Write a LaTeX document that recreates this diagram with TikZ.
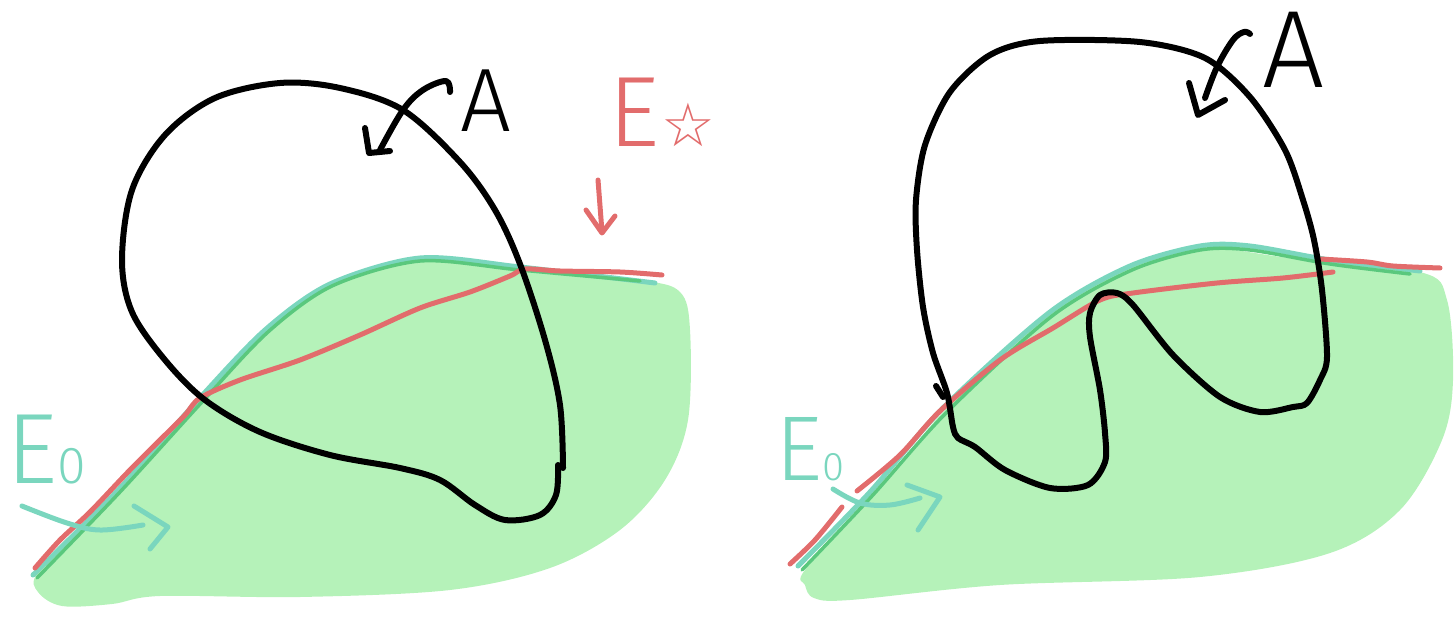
\documentclass[tikz,border=0pt]{standalone}
\usepackage{fontspec}
\setmainfont{Fira Sans Light}
\newfontfamily\symfont{DejaVu Sans}
\definecolor{fillgreen}{RGB}{181,242,185}
\definecolor{linegreen}{RGB}{90,200,125}
\definecolor{teal2}{RGB}{122,214,190}
\definecolor{red2}{RGB}{226,108,108}
\tikzset{
  ink/.style={line width=6pt, line cap=round, line join=round},
  blackink/.style={ink, black},
  redink/.style={ink, red2, line width=5pt},
  greenink/.style={ink, linegreen, line width=4.5pt},
  tealink/.style={ink, teal2, line width=5pt},
  lbl/.style={inner sep=0pt, anchor=base west},
}
\begin{document}
\begin{tikzpicture}[x=1pt,y=-1pt]
\useasboundingbox (0,0) rectangle (1455,620);
% ================= LEFT PANEL =================
\fill[fillgreen] plot[smooth cycle, tension=0.55] coordinates {
 (38,572) (90,518) (145,460) (200,400) (260,336) (330,284) (420,258) (520,266)
 (640,280) (680,292) (690,330) (688,420) (665,480) (620,530) (550,568)
 (450,590) (300,597) (160,596) (112,604) (62,606) (38,592)};
\draw[tealink] plot[smooth, tension=0.5] coordinates {(33,575) (120,488) (198,400) (265,330) (330,284) (420,258) (520,267) (655,283)};
\draw[greenink, line width=3.5pt] plot[smooth, tension=0.5] coordinates {(37,578) (120,492) (202,402) (268,332) (332,286) (420,261) (520,270) (640,281)};
\draw[redink] plot[smooth, tension=0.5] coordinates {(35,568) (60,540) (90,512) (128,472) (160,440) (185,415) (200,398) (240,380) (300,360) (360,335) (420,308) (470,292) (510,276) (525,269) (560,271) (620,272) (662,275)};
\draw[blackink] plot[smooth, tension=0.55] coordinates {
 (558,465) (556,495) (540,515) (505,520) (475,505) (440,480) (400,468) (330,455)
 (260,432) (205,400) (165,360) (132,312) (122,260) (132,190) (165,135) (215,98)
 (280,83) (340,88) (403,110) (460,162) (495,210) (520,264) (545,340) (560,405) (563,468)};
% arrow A (left)
\draw[blackink] plot[smooth, tension=0.6] coordinates {(450,92) (446,81) (423,90) (403,110) (380,150)};
\draw[blackink] (365,128) -- (369,153) -- (390,151);
\node[lbl, font=\fontsize{90}{90}\selectfont] (Aleft) at (460,132) {A};
% E star label and arrow
\node[lbl, red2, font=\fontsize{100}{100}\selectfont] (Estar) at (608,147) {E\kern2pt{\symfont\fontsize{60}{60}\selectfont ☆}};
\draw[redink] (598,180) -- (602,232);
\draw[redink] (586,210) -- (602,233) -- (615,216);
% E0 label (left) and arrow
\node[lbl, teal2, font=\fontsize{100}{100}\selectfont] (E0left) at (6,483) {E{\fontsize{52}{52}\selectfont 0}};
\draw[tealink] plot[smooth, tension=0.6] coordinates {(22,506) (67,523) (100,530) (143,525)};
\draw[tealink] (134,506) -- (168,527) -- (150,549);
% ================= RIGHT PANEL =================
\fill[fillgreen] plot[smooth cycle, tension=0.55] coordinates {
 (805,570) (870,500) (945,410) (1040,322) (1110,276) (1200,249) (1290,258)
 (1420,272) (1447,300) (1453,380) (1442,440) (1400,510) (1330,553) (1200,577)
 (1000,585) (850,600) (814,598) (805,585)};
\draw[tealink] plot[smooth, tension=0.5] coordinates {(798,566) (870,492) (943,408) (1050,312) (1130,266) (1200,246) (1250,246) (1330,260) (1420,271)};
\draw[greenink, line width=3.5pt] plot[smooth, tension=0.5] coordinates {(802,570) (872,496) (947,412) (1052,316) (1132,270) (1200,250) (1250,250) (1330,264) (1410,274)};
\draw[redink] plot[smooth, tension=0.5] coordinates {(790,564) (815,540) (842,507)};
\draw[redink] plot[smooth, tension=0.5] coordinates {(857,491) (900,455) (940,411) (1000,360) (1053,328) (1100,300) (1133,293) (1217,283) (1283,278) (1333,272)};
\draw[redink] plot[smooth, tension=0.5] coordinates {(1320,259) (1367,262) (1393,266) (1440,268)};
\draw[blackink] plot[smooth cycle, tension=0.5] coordinates {
 (1040,41) (1140,42) (1205,58) (1250,97) (1285,150) (1303,200) (1314,240)
 (1322,290) (1327,357) (1320,380) (1307,403) (1293,407) (1260,412) (1220,397)
 (1173,355) (1133,305) (1117,293) (1100,295) (1090,313) (1090,337) (1100,390)
 (1105,433) (1105,462) (1088,485) (1050,488) (1005,470) (975,447) (958,438)
 (953,427) (947,393) (933,353) (923,307) (917,250) (916,200) (925,145) (950,92) (990,55)};
\draw[blackink] (936,386) -- (943,397);
% arrow A (right)
\draw[blackink] plot[smooth, tension=0.6] coordinates {(1250,34) (1244,32) (1233,40) (1217,67) (1205,98)};
\draw[blackink] (1189,83) -- (1198,115) -- (1225,100);
\node[lbl, font=\fontsize{110}{110}\selectfont] (Aright) at (1262,88) {A};
% E0 label (right) and arrow
\node[lbl, teal2, font=\fontsize{92}{92}\selectfont] (E0right) at (775,480) {E{\fontsize{40}{40}\selectfont 0}};
\draw[tealink] plot[smooth, tension=0.6] coordinates {(833,489) (860,503) (890,505) (920,498)};
\draw[tealink] (907,485) -- (940,497) -- (918,530);
\end{tikzpicture}
\end{document}
